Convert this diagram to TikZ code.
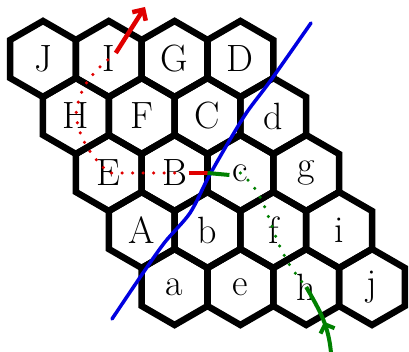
\documentclass[tikz,border=0pt]{standalone}
\usepackage{fontspec}
\usepackage{tikz}
\usetikzlibrary{arrows.meta,shapes.geometric,decorations.markings,calc}
\definecolor{RouteRed}{HTML}{E00000}
\definecolor{RouteGreen}{HTML}{008000}
\definecolor{CutBlue}{HTML}{0000E0}

\begin{document}
\begin{tikzpicture}[
    x=1pt, y=1pt,
    font=\fontsize{38}{40}\selectfont,
    hexa/.style={regular polygon, regular polygon sides=6, shape border rotate=30, draw=black, line width=6.5pt, minimum size=76pt, inner sep=0pt},
    reddots/.style={draw=RouteRed, line width=3.5pt, line cap=round, dash pattern=on 0pt off 10.5pt},
    greendots/.style={draw=RouteGreen, line width=3.5pt, line cap=round, dash pattern=on 0pt off 10.5pt},
    redline/.style={draw=RouteRed, line width=4pt},
    greenline/.style={draw=RouteGreen, line width=4pt},
    redarrow/.style={draw=RouteRed, line width=4.5pt, -{Straight Barb[length=8pt, width=16pt, line width=4.5pt]}},
    greenarrow/.style={draw=RouteGreen, line width=4pt, postaction={decorate, decoration={markings, mark=at position 0.45 with {\arrow{Straight Barb[length=7pt, width=15pt, line width=4pt]}}}}},
    cutline/.style={draw=CutBlue, line width=3.5pt, line cap=round, line join=round}
]
\useasboundingbox (0,0) rectangle (409,-352);

% row 1
\node[hexa] (J) at (43,-59) {J};
\node[hexa] (I) at (108.8,-59) {I};
\node[hexa] (G) at (174.6,-59) {G};
\node[hexa] (D) at (240.4,-59) {D};
% row 2
\node[hexa] (H) at (75.9,-116) {H};
\node[hexa] (F) at (141.7,-116) {F};
\node[hexa] (C) at (207.5,-116) {C};
\node[hexa] (d) at (273.3,-116) {d};
% row 3
\node[hexa] (E) at (108.8,-173) {E};
\node[hexa] (B) at (174.6,-173) {B};
\node[hexa] (c) at (240.4,-173) {c};
\node[hexa] (g) at (306.2,-173) {g};
% row 4
\node[hexa] (A) at (141.7,-230) {A};
\node[hexa] (b) at (207.5,-230) {b};
\node[hexa] (f) at (273.3,-230) {f};
\node[hexa] (i) at (339.1,-230) {i};
% row 5
\node[hexa] (a) at (174.6,-287) {a};
\node[hexa] (e) at (240.4,-287) {e};
\node[hexa] (h) at (306.2,-287) {h};
\node[hexa] (j) at (372,-287) {j};

\coordinate (bc) at ($(B.center)!0.5!(c.center)$);
\coordinate (rtip) at (145,-7);
\coordinate (gfoot) at (331,-353);
\coordinate (cutlow) at (112,-319);
\coordinate (cuthigh) at (311,-23);

% cut
\draw[cutline] plot[smooth] coordinates {(cutlow) (143,-273) (165,-242) (190,-213) (208,-178) (228,-143) (247,-112) (271,-80) (cuthigh)};

% red route
\draw[reddots] (B.center) -- (E.center) to[out=135,in=-80] (H.center) to[out=85,in=-140] (I.center);
\draw[redline] ([xshift=14pt]B.center) -- (bc);
\draw[redarrow] ([shift={(7,6)}]I.center) -- (rtip);

% green route
\draw[greenline] (bc) -- ([shift={(-11,-2)}]c.center);
\draw[greendots] (c.center) to[out=-40,in=110] (f.center) to[out=-70,in=130] (h.center);
\draw[greenarrow] (gfoot) to[out=95,in=-60] (h.center);
\end{tikzpicture}
\end{document}
